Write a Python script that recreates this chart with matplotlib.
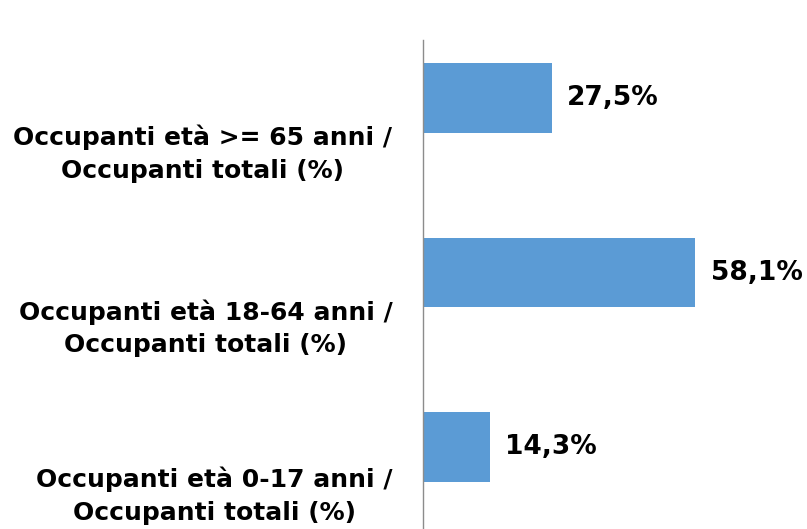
import matplotlib.pyplot as plt

categories = [
    "Occupanti età >= 65 anni /\nOccupanti totali (%)",
    "Occupanti età 18-64 anni /\nOccupanti totali (%)",
    "Occupanti età 0-17 anni /\nOccupanti totali (%)",
]
values = [27.5, 58.1, 14.3]
value_labels = ["27,5%", "58,1%", "14,3%"]

plt.rcParams['font.family'] = ['DejaVu Sans']

fig = plt.figure(figsize=(8.07, 5.29), dpi=100)
ax = fig.add_axes([0.5242, 0.0, 0.4758, 0.9244])

pos = list(range(len(values)))
bars = ax.barh(pos, values, height=0.40, color='#5B9BD5')

ax.bar_label(bars, labels=value_labels, padding=11, fontsize=19,
             fontweight='bold', color='#000000')

ax.set_xlim(0, 81.9)
ax.set_ylim(2.471, -0.334)

# category labels sit below each bar; the last one is nudged up to fit
label_shift = [0.28, 0.28, 0.24]
ax.set_yticks([p + s for p, s in zip(pos, label_shift)])
ax.set_yticklabels(categories, fontsize=18, fontweight='bold')
for lbl in ax.get_yticklabels():
    lbl.set_multialignment('center')
    lbl.set_linespacing(1.45)
ax.tick_params(axis='y', length=0, pad=22)
ax.set_xticks([])

for side in ['top', 'right', 'bottom']:
    ax.spines[side].set_visible(False)
ax.spines['left'].set_color('#8C8C8C')
ax.spines['left'].set_linewidth(1.0)

fig.savefig('out.png', dpi=100)
